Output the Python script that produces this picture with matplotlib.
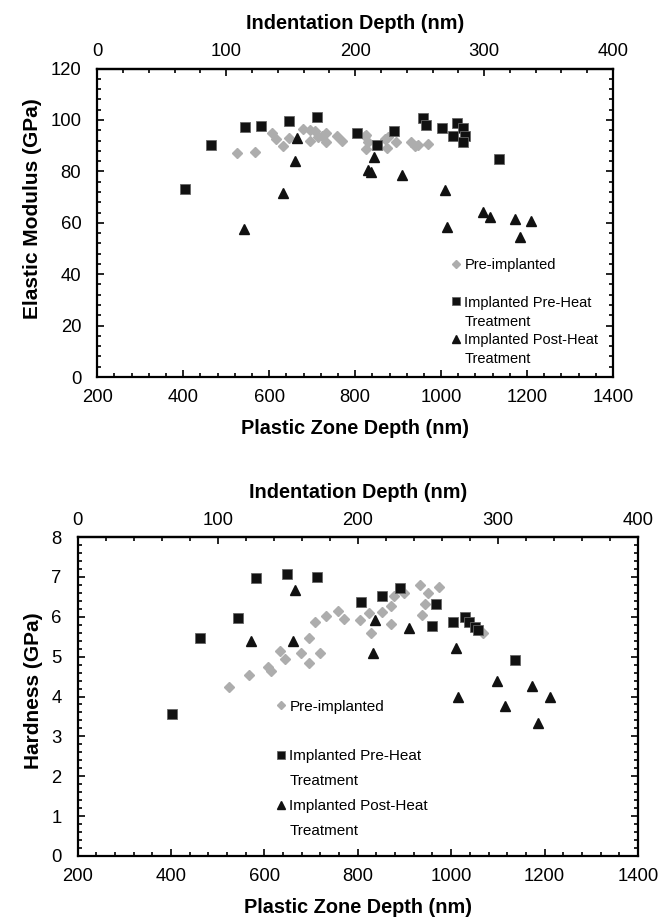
import matplotlib
matplotlib.use("Agg")
import matplotlib.pyplot as plt
from matplotlib.lines import Line2D
from matplotlib.ticker import MultipleLocator, FixedLocator

plt.rcParams['font.family'] = ['Liberation Sans', 'DejaVu Sans']

# ---- Elastic modulus (GPa) vs plastic zone depth (nm)
mod_pre_x = [524, 568, 607, 615, 633, 646, 678, 695, 706, 696, 714, 722, 732, 733,
             757, 770, 822, 825, 830, 826, 869, 877, 873, 896, 931, 939, 947, 970]
mod_pre_y = [87.1, 87.5, 95.0, 92.6, 89.7, 92.9, 96.5, 96.1, 95.9, 91.7, 93.3, 93.9, 94.8, 91.6,
             93.7, 92.0, 93.9, 94.3, 91.4, 88.8, 92.6, 93.5, 89.2, 91.6, 91.4, 89.7, 90.1, 90.7]

mod_preheat_x = [404, 464, 543, 582, 647, 712, 805, 850, 890, 958, 966, 1001, 1036, 1051,
                 1028, 1055, 1050, 1134]
mod_preheat_y = [73.3, 90.1, 97.2, 97.7, 99.5, 101.3, 95.0, 90.3, 95.9, 100.6, 98.2, 96.8, 98.8, 96.8,
                 93.7, 93.9, 91.6, 84.9]

mod_postheat_x = [542, 633, 661, 665, 831, 836, 843, 908, 1009, 1013, 1098, 1114, 1171, 1209, 1183]
mod_postheat_y = [57.5, 71.7, 84.0, 93.0, 80.4, 79.8, 85.5, 78.7, 72.6, 58.5, 64.3, 62.1, 61.4, 60.6, 54.6]

# ---- Hardness (GPa) vs plastic zone depth (nm)
hard_pre_x = [524, 567, 608, 614, 633, 645, 678, 696, 696, 709, 719, 733, 758, 771, 805,
              825, 828, 851, 871, 872, 877, 898, 934, 938, 944, 950, 973, 1068]
hard_pre_y = [4.25, 4.54, 4.75, 4.64, 5.14, 4.95, 5.10, 5.47, 4.85, 5.87, 5.10, 6.03, 6.15, 5.95, 5.91,
              6.09, 5.59, 6.11, 6.26, 5.82, 6.53, 6.59, 6.79, 6.05, 6.31, 6.59, 6.75, 5.59]

hard_preheat_x = [403, 463, 544, 583, 648, 712, 807, 852, 891, 968, 959, 1003, 1030, 1038,
                  1050, 1058, 1136]
hard_preheat_y = [3.55, 5.47, 5.97, 6.97, 7.06, 7.00, 6.36, 6.53, 6.73, 6.31, 5.76, 5.87, 5.99, 5.88,
                  5.74, 5.68, 4.91]

hard_postheat_x = [572, 661, 665, 832, 837, 910, 1010, 1014, 1099, 1116, 1174, 1212, 1186]
hard_postheat_y = [5.39, 5.38, 6.67, 5.10, 5.91, 5.72, 5.21, 4.00, 4.39, 3.77, 4.27, 4.00, 3.33]

series_labels = ['Pre-implanted', 'Implanted Pre-Heat', 'Implanted Post-Heat']
indent_ticks = [0, 100, 200, 300, 400]

GREY = '#adadad'
BLACK = '#111111'


def to_indent(x):
    return (x - 200) / 3.0


def from_indent(x):
    return x * 3.0 + 200


def style_panel(ax, ymax, ymaj, ymin, ylabel, ylabel_y):
    ax.set_xlim(200, 1400)
    ax.set_ylim(0, ymax)
    ax.xaxis.set_major_locator(MultipleLocator(200))
    ax.xaxis.set_minor_locator(MultipleLocator(40))
    ax.yaxis.set_major_locator(MultipleLocator(ymaj))
    ax.yaxis.set_minor_locator(MultipleLocator(ymin))
    ax.tick_params(which='both', direction='in', top=False, right=True, width=1.2)
    ax.tick_params(which='major', length=5)
    ax.tick_params(which='minor', length=3)
    ax.tick_params(axis='y', pad=11.5, labelsize=13.3)
    ax.tick_params(axis='x', pad=8.8, labelsize=13.3)
    for sp in ax.spines.values():
        sp.set_linewidth(1.6)
    ax.set_xlabel('Plastic Zone Depth (nm)', fontsize=14.3, fontweight='bold', labelpad=9)
    ax.set_ylabel(ylabel, fontsize=15, fontweight='bold', labelpad=6)
    ax.yaxis.label.set_y(ylabel_y)

    # indentation depth scale on top (plastic zone = 3 x indentation + 200)
    sec = ax.secondary_xaxis('top', functions=(to_indent, from_indent))
    sec.xaxis.set_major_locator(FixedLocator(indent_ticks))
    sec.xaxis.set_minor_locator(MultipleLocator(20))
    sec.tick_params(which='both', direction='in', width=1.2, labelsize=13.3, pad=6)
    sec.tick_params(which='major', length=5)
    sec.tick_params(which='minor', length=3)
    sec.spines['top'].set_linewidth(1.6)
    sec.set_xlabel('Indentation Depth (nm)', fontsize=14.3, fontweight='bold', labelpad=10)


def draw_series(ax, pre, preheat, postheat):
    h1, = ax.plot(pre[0], pre[1], linestyle='none', marker='D', ms=4.8,
                  color=GREY, mec=GREY, zorder=2)
    h2, = ax.plot(preheat[0], preheat[1], linestyle='none', marker='s', ms=6.8,
                  color=BLACK, mec='#666666', mew=0.6, zorder=3)
    h3, = ax.plot(postheat[0], postheat[1], linestyle='none', marker='^', ms=7,
                  color=BLACK, mec=BLACK, zorder=3)
    return h1, h2, h3


def add_legend(ax, handles, anchor, fontsize, spacing):
    blank = Line2D([], [], linestyle='none')
    h1, h2, h3 = handles
    hs = [h1, blank, h2, blank, h3, blank]
    ls = [series_labels[0], '', series_labels[1], 'Treatment', series_labels[2], 'Treatment']
    leg = ax.legend(hs, ls, loc='upper left', bbox_to_anchor=anchor, frameon=False,
                    fontsize=fontsize, borderpad=0, borderaxespad=0, handlelength=0.8,
                    handletextpad=0.15, labelspacing=spacing, markerscale=0.85)
    return leg


fig = plt.figure(figsize=(6.65, 9.23), dpi=100)

ax1 = fig.add_axes([97.3 / 665, 1 - 377 / 923, (613 - 97.3) / 665, (377 - 68.6) / 923])
style_panel(ax1, 120, 20, 4, 'Elastic Modulus (GPa)', 0.545)
hd = draw_series(ax1, (mod_pre_x, mod_pre_y), (mod_preheat_x, mod_preheat_y),
                 (mod_postheat_x, mod_postheat_y))
add_legend(ax1, hd, (0.685, 0.387), 10.5, 0.34)

ax2 = fig.add_axes([77.5 / 665, 1 - 856 / 923, (638 - 77.5) / 665, (856 - 537) / 923])
style_panel(ax2, 8, 1, 0.2, 'Hardness (GPa)', 0.517)
hd = draw_series(ax2, (hard_pre_x, hard_pre_y), (hard_preheat_x, hard_preheat_y),
                 (hard_postheat_x, hard_postheat_y))
add_legend(ax2, hd, (0.352, 0.49), 11, 0.71)

fig.savefig('out.png', dpi=100)
